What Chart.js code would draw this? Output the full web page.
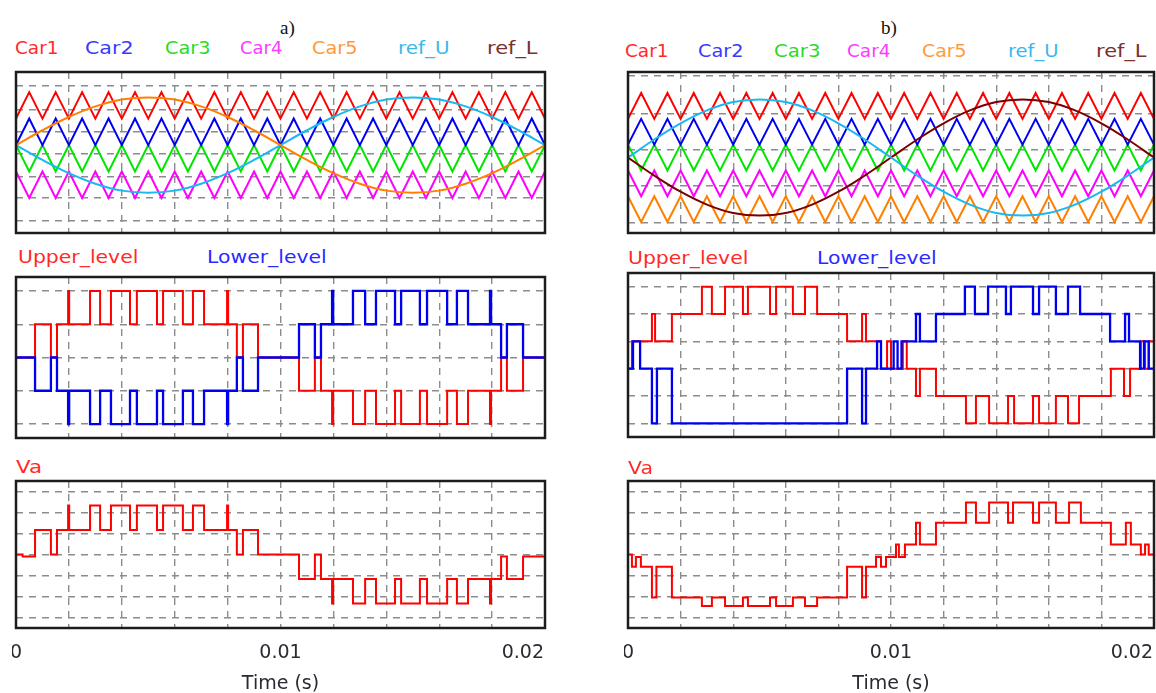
<!DOCTYPE html>
<html lang="en">
<head>
<meta charset="UTF-8">
<title>Carrier PWM waveforms</title>
<script src="https://cdn.jsdelivr.net/npm/chart.js"></script>
<style>
    body {
        margin: 0;
        width: 1156px;
        height: 693px;
        position: relative;
        overflow: hidden;
        background: #fff;
        font-family: "DejaVu Sans", Verdana, sans-serif;
    }
    canvas { position: absolute; }
    .lbl {
        position: absolute;
        font-size: 18px;
        line-height: 1;
        white-space: nowrap;
        transform-origin: left center;
    }
    .cap {
        font-family: "Liberation Serif", "DejaVu Serif", serif;
        font-size: 19px;
        color: #111;
    }
</style>
</head>
<body>
<script>
    // ---------- data ----------
    // grid / time axis
    const gridTimes = [0, 0.002, 0.004, 0.006, 0.008, 0.01, 0.012, 0.014, 0.016, 0.018, 0.02];
    const timeLabels = [0, 0.01, 0.02];

    // carrier vertices (1 kHz triangles)
    const carrierTimes = [0, 0.0005, 0.001, 0.0015, 0.002, 0.0025, 0.003, 0.0035, 0.004, 0.0045,
        0.005, 0.0055, 0.006, 0.0065, 0.007, 0.0075, 0.008, 0.0085, 0.009, 0.0095,
        0.01, 0.0105, 0.011, 0.0115, 0.012, 0.0125, 0.013, 0.0135, 0.014, 0.0145,
        0.015, 0.0155, 0.016, 0.0165, 0.017, 0.0175, 0.018, 0.0185, 0.019, 0.0195, 0.02];

    // [level at t=0, level at next vertex]
    const car1A = [0.5, 1];
    const car2A = [0, 0.5];
    const car3A = [0, -0.5];
    const car4A = [-0.5, -1];

    const car1B = [0.6, 1];
    const car2B = [0.2, 0.6];
    const car3B = [0.2, -0.2];
    const car4B = [-0.2, -0.6];
    const car5B = [-0.6, -1];

    // references, sampled every 1 ms
    const refTimes = [0, 0.001, 0.002, 0.003, 0.004, 0.005, 0.006, 0.007, 0.008, 0.009, 0.01,
        0.011, 0.012, 0.013, 0.014, 0.015, 0.016, 0.017, 0.018, 0.019, 0.02];
    const refOrangeA = [0, 0.28, 0.53, 0.73, 0.86, 0.9, 0.86, 0.73, 0.53, 0.28, 0,
        -0.28, -0.53, -0.73, -0.86, -0.9, -0.86, -0.73, -0.53, -0.28, 0];
    const refCyanA = [0, -0.28, -0.53, -0.73, -0.86, -0.9, -0.86, -0.73, -0.53, -0.28, 0,
        0.28, 0.53, 0.73, 0.86, 0.9, 0.86, 0.73, 0.53, 0.28, 0];
    const refUB = [0, 0.28, 0.53, 0.73, 0.86, 0.9, 0.86, 0.73, 0.53, 0.28, 0,
        -0.28, -0.53, -0.73, -0.86, -0.9, -0.86, -0.73, -0.53, -0.28, 0];
    const refLB = [0, -0.28, -0.53, -0.73, -0.86, -0.9, -0.86, -0.73, -0.53, -0.28, 0,
        0.28, 0.53, 0.73, 0.86, 0.9, 0.86, 0.73, 0.53, 0.28, 0];

    // step signals: [switch time, new level]
    const upperA = [[0, 0], [0.00072, 1], [0.00132, 0], [0.00155, 1], [0.00197, 2], [0.00201, 1],
        [0.0028, 2], [0.00318, 1], [0.00359, 2], [0.00431, 1], [0.00457, 2], [0.00533, 1],
        [0.00556, 2], [0.00631, 1], [0.00669, 2], [0.00711, 1], [0.00798, 2], [0.00802, 1],
        [0.00835, 0], [0.00858, 1], [0.00915, 0], [0.0107, -1], [0.0113, 0], [0.01153, -1],
        [0.01195, -2], [0.01199, -1], [0.01274, -2], [0.0132, -1], [0.01361, -2], [0.01433, -1],
        [0.01456, -2], [0.01527, -1], [0.01554, -2], [0.0163, -1], [0.01667, -2], [0.01709, -1],
        [0.01792, -2], [0.01796, -1], [0.01834, 0], [0.01856, -1], [0.01917, 0], [0.02, 0]];
    const lowerA = [[0, 0], [0.00072, -1], [0.00132, 0], [0.00155, -1], [0.00197, -2], [0.00201, -1],
        [0.0028, -2], [0.00318, -1], [0.00359, -2], [0.00431, -1], [0.00457, -2], [0.00533, -1],
        [0.00556, -2], [0.00631, -1], [0.00669, -2], [0.00711, -1], [0.00798, -2], [0.00802, -1],
        [0.00835, 0], [0.00858, -1], [0.00915, 0], [0.0107, 1], [0.0113, 0], [0.01153, 1],
        [0.01195, 2], [0.01199, 1], [0.01274, 2], [0.0132, 1], [0.01361, 2], [0.01433, 1],
        [0.01456, 2], [0.01527, 1], [0.01554, 2], [0.0163, 1], [0.01667, 2], [0.01709, 1],
        [0.01792, 2], [0.01796, 1], [0.01834, 0], [0.01856, 1], [0.01917, 0], [0.02, 0]];
    const vaA = [[0, 0], [0.00025, -0.08], [0.00072, 1], [0.00132, 0], [0.00155, 1], [0.00197, 2], [0.00201, 1],
        [0.0028, 2], [0.00318, 1], [0.00359, 2], [0.00431, 1], [0.00457, 2], [0.00533, 1],
        [0.00556, 2], [0.00631, 1], [0.00669, 2], [0.00711, 1], [0.00798, 2], [0.00802, 1],
        [0.00835, 0], [0.00858, 1], [0.00915, 0], [0.0107, -1], [0.0113, 0], [0.01153, -1],
        [0.01195, -2], [0.01199, -1], [0.01274, -2], [0.0132, -1], [0.01361, -2], [0.01433, -1],
        [0.01456, -2], [0.01527, -1], [0.01554, -2], [0.0163, -1], [0.01667, -2], [0.01709, -1],
        [0.01792, -2], [0.01796, -1], [0.01834, -0.08], [0.01856, -1], [0.01917, -0.08], [0.02, -0.08]];

    const upperB = [[0, -0.5], [0.00015, 0.5], [0.00091, 1.5], [0.00103, 0.5], [0.00167, 1.5],
        [0.00281, 2.5], [0.00319, 1.5], [0.00369, 2.5], [0.00437, 1.5], [0.00456, 2.5],
        [0.0054, 1.5], [0.00563, 2.5], [0.00627, 1.5], [0.00673, 2.5], [0.00719, 1.5],
        [0.00833, 0.5], [0.0089, 1.5], [0.00905, 0.5], [0.00962, -0.5], [0.00985, 0.5],
        [0.01, -0.5], [0.01045, 0.5], [0.0106, -0.5], [0.01095, -1.5], [0.0111, -0.5],
        [0.01171, -1.5], [0.01285, -2.5], [0.01323, -1.5], [0.01373, -2.5], [0.01445, -1.5],
        [0.01468, -2.5], [0.0154, -1.5], [0.01563, -2.5], [0.01627, -1.5], [0.01673, -2.5],
        [0.01715, -1.5], [0.01836, -0.5], [0.01886, -1.5], [0.01909, -0.5], [0.0195, 0.5],
        [0.01966, -0.5], [0.0198, 0.5], [0.02, 0.5]];
    const lowerB = [[0, -0.5], [0.00019, 0.5], [0.00046, -0.5], [0.00091, -2.5], [0.0011, -0.5],
        [0.00167, -2.5], [0.00833, -0.5], [0.0089, -2.5], [0.00905, -0.5], [0.00947, 0.5],
        [0.00962, -0.5], [0.0101, 0.5], [0.01025, -0.5], [0.0104, 0.5], [0.01095, 1.5],
        [0.0111, 0.5], [0.01171, 1.5], [0.01281, 2.5], [0.01319, 1.5], [0.01369, 2.5],
        [0.01437, 1.5], [0.01456, 2.5], [0.0154, 1.5], [0.01563, 2.5], [0.01627, 1.5],
        [0.01673, 2.5], [0.01719, 1.5], [0.01833, 0.5], [0.0189, 1.5], [0.01905, 0.5],
        [0.01947, -0.5], [0.01962, 0.5], [0.0198, -0.5], [0.02, -0.5]];
    const vaB = [[0, 0], [0.00015, -0.5], [0.0003, -0.1], [0.00049, -0.5], [0.00091, -1.75],
        [0.00108, -0.5], [0.00167, -1.75], [0.00281, -2.1], [0.00319, -1.75], [0.00369, -2.1],
        [0.00437, -1.75], [0.00456, -2.1], [0.0054, -1.75], [0.00563, -2.1], [0.00627, -1.75],
        [0.00673, -2.1], [0.00719, -1.75], [0.00833, -0.5], [0.0089, -1.75], [0.00905, -0.5],
        [0.00943, -0.1], [0.00962, -0.5], [0.00981, -0.1], [0.01019, 0.41], [0.0103, -0.1],
        [0.01053, 0.41], [0.01095, 1.3], [0.0111, 0.41], [0.01171, 1.3], [0.01285, 2.12],
        [0.01323, 1.3], [0.01373, 2.12], [0.01445, 1.3], [0.01464, 2.12], [0.0154, 1.3],
        [0.01563, 2.12], [0.01627, 1.3], [0.01677, 2.12], [0.01722, 1.3], [0.01836, 0.41],
        [0.01893, 1.3], [0.01912, 0.41], [0.0195, 0], [0.01966, 0.41], [0.0198, 0], [0.02, 0]];

    // y grid positions of each panel (in panel units)
    const gridTopA = [1.113, 0.66, 0.245, -0.17, -0.604, -1.0, -1.434];
    const gridTopB = [1.264, 0.674, 0.116, -0.442, -1.016];
    const gridMidA = [2, 1, 0, -1, -2];
    const gridMidB = [2.5, 1.5, 0.5, -0.5, -1.5, -2.5];
    const gridVa = [2.571, 1.714, 0.857, 0, -0.857, -1.714, -2.571];

    // ---------- colours ----------
    const RED = '#ff0000', BLUE = '#0000f0', GREEN = '#00e600', MAGENTA = '#ff00ff',
          ORANGE = '#ff8000', CYAN = '#1ab8f0', BROWN = '#7a0000';

    // ---------- helpers ----------
    function carrier(levels) {
        return carrierTimes.map((t, i) => ({ x: t, y: levels[i % 2] }));
    }
    function sampled(values) {
        return refTimes.map((t, i) => ({ x: t, y: values[i] }));
    }
    function steps(pairs) {
        const pts = [];
        pairs.forEach((p, i) => {
            if (i > 0) pts.push({ x: p[0], y: pairs[i - 1][1] });
            pts.push({ x: p[0], y: p[1] });
        });
        return pts;
    }
    function line(data, color, smooth, width) {
        return {
            data: data, borderColor: color, borderWidth: width || 2, pointRadius: 0,
            fill: false, tension: smooth ? 0.4 : 0
        };
    }

    const framePlugin = {
        id: 'frame',
        afterDatasetsDraw(chart) {
            const a = chart.chartArea, ctx = chart.ctx;
            ctx.save();
            ctx.strokeStyle = '#1c1c1c';
            ctx.lineWidth = 2.5;
            ctx.strokeRect(a.left, a.top, a.right - a.left, a.bottom - a.top);
            ctx.restore();
        }
    };

    const timeAxisPlugin = {
        id: 'timeAxis',
        afterDraw(chart) {
            if (!chart.options.plugins.timeAxis.show) return;
            const a = chart.chartArea, ctx = chart.ctx, xs = chart.scales.x;
            ctx.save();
            ctx.fillStyle = '#2a2a33';
            ctx.font = '19px "DejaVu Sans", Verdana, sans-serif';
            ctx.textBaseline = 'middle';
            timeLabels.forEach((v, i) => {
                let x = xs.getPixelForValue(v);
                ctx.textAlign = 'center';
                if (i === timeLabels.length - 1) { ctx.textAlign = 'right'; x = a.right - 1; }
                ctx.fillText(String(v), x, a.bottom + 25);
            });
            ctx.textAlign = 'center';
            ctx.fillText('Time (s)', xs.getPixelForValue(0.01), a.bottom + 56);
            ctx.restore();
        }
    };

    function makePanel(box, yMin, yMax, yGrid, datasets, withTime) {
        const pad = 4, extra = withTime ? 66 : 0;
        const cv = document.createElement('canvas');
        cv.width = box[2] - box[0] + 2 * pad;
        cv.height = box[3] - box[1] + 2 * pad + extra;
        cv.style.left = (box[0] - pad) + 'px';
        cv.style.top = (box[1] - pad) + 'px';
        document.body.appendChild(cv);

        const gridOpts = { color: '#8c8c8c', lineWidth: 1.4, drawTicks: false };
        const borderOpts = { display: false, dash: [7, 6] };
        return new Chart(cv, {
            type: 'line',
            data: { datasets: datasets },
            options: {
                responsive: false,
                animation: false,
                events: [],
                parsing: false,
                layout: { padding: { left: pad, right: pad, top: pad, bottom: pad + extra } },
                plugins: { legend: { display: false }, tooltip: { enabled: false }, timeAxis: { show: withTime } },
                scales: {
                    x: {
                        type: 'linear', min: 0, max: 0.02,
                        afterBuildTicks: s => { s.ticks = gridTimes.map(v => ({ value: v })); },
                        ticks: { display: false }, grid: gridOpts, border: borderOpts
                    },
                    y: {
                        type: 'linear', min: yMin, max: yMax,
                        afterBuildTicks: s => { s.ticks = yGrid.map(v => ({ value: v })); },
                        ticks: { display: false }, grid: gridOpts, border: borderOpts
                    }
                }
            },
            plugins: [framePlugin, timeAxisPlugin]
        });
    }

    // ---------- panels ----------
    // a) left column
    makePanel([16, 72, 545, 233], -1.66, 1.38, gridTopA, [
        line(sampled(refOrangeA), ORANGE, true),
        line(sampled(refCyanA), CYAN, true),
        line(carrier(car1A), RED),
        line(carrier(car2A), BLUE),
        line(carrier(car3A), GREEN),
        line(carrier(car4A), MAGENTA)
    ], false);
    makePanel([16, 277, 545, 438], -2.42, 2.42, gridMidA, [
        line(steps(lowerA), BLUE, false, 2.3),
        line(steps(upperA), RED)
    ], false);
    makePanel([16, 481, 545, 628], -3, 3, gridVa, [
        line(steps(vaA), RED)
    ], true);

    // b) right column
    makePanel([628, 72, 1154, 233], -1.17, 1.326, gridTopB, [
        line(sampled(refUB), CYAN, true),
        line(sampled(refLB), BROWN, true),
        line(carrier(car1B), RED),
        line(carrier(car2B), BLUE),
        line(carrier(car3B), GREEN),
        line(carrier(car4B), MAGENTA),
        line(carrier(car5B), ORANGE)
    ], false);
    makePanel([628, 273, 1154, 437], -3, 3, gridMidB, [
        line(steps(lowerB), BLUE, false, 2.3),
        line(steps(upperB), RED)
    ], false);
    makePanel([628, 481, 1154, 628], -3, 3, gridVa, [
        line(steps(vaB), RED)
    ], true);

    // ---------- text labels: [text, colour, left, centre y, width] ----------
    const labels = [
        ['Car1', '#ff2a2a', 15, 48, 43], ['Car2', '#3a3aff', 85, 48, 48], ['Car3', '#2ada2a', 165, 48, 45],
        ['Car4', '#ff3aff', 240, 48, 42], ['Car5', '#ff9a3a', 312, 48, 45], ['ref_U', '#3ab8ee', 398, 48, 52],
        ['ref_L', '#7a3030', 487, 48, 50],
        ['Car1', '#ff2a2a', 625, 51, 43], ['Car2', '#3a3aff', 698, 51, 45], ['Car3', '#2ada2a', 774, 51, 46],
        ['Car4', '#ff3aff', 847, 51, 43], ['Car5', '#ff9a3a', 922, 51, 44], ['ref_U', '#3ab8ee', 1008, 51, 51],
        ['ref_L', '#7a3030', 1096, 51, 50],
        ['Upper_level', '#ff2a2a', 18, 257, 120], ['Lower_level', '#2a2aff', 207, 257, 120],
        ['Upper_level', '#ff2a2a', 628, 258, 120], ['Lower_level', '#2a2aff', 817, 258, 120],
        ['Va', '#ff2a2a', 16, 467, 26], ['Va', '#ff2a2a', 628, 468, 25]
    ];
    labels.forEach(l => {
        const el = document.createElement('div');
        el.className = 'lbl';
        el.textContent = l[0];
        el.style.color = l[1];
        el.style.left = l[2] + 'px';
        el.style.top = l[3] + 'px';
        document.body.appendChild(el);
        const k = l[4] / el.offsetWidth;
        el.style.transform = 'translateY(-50%) scaleX(' + k.toFixed(3) + ')';
    });
    [['a)', 280, 27], ['b)', 881, 27]].forEach(c => {
        const el = document.createElement('div');
        el.className = 'lbl cap';
        el.textContent = c[0];
        el.style.left = c[1] + 'px';
        el.style.top = c[2] + 'px';
        el.style.transform = 'translateY(-50%)';
        document.body.appendChild(el);
    });
</script>
</body>
</html>
